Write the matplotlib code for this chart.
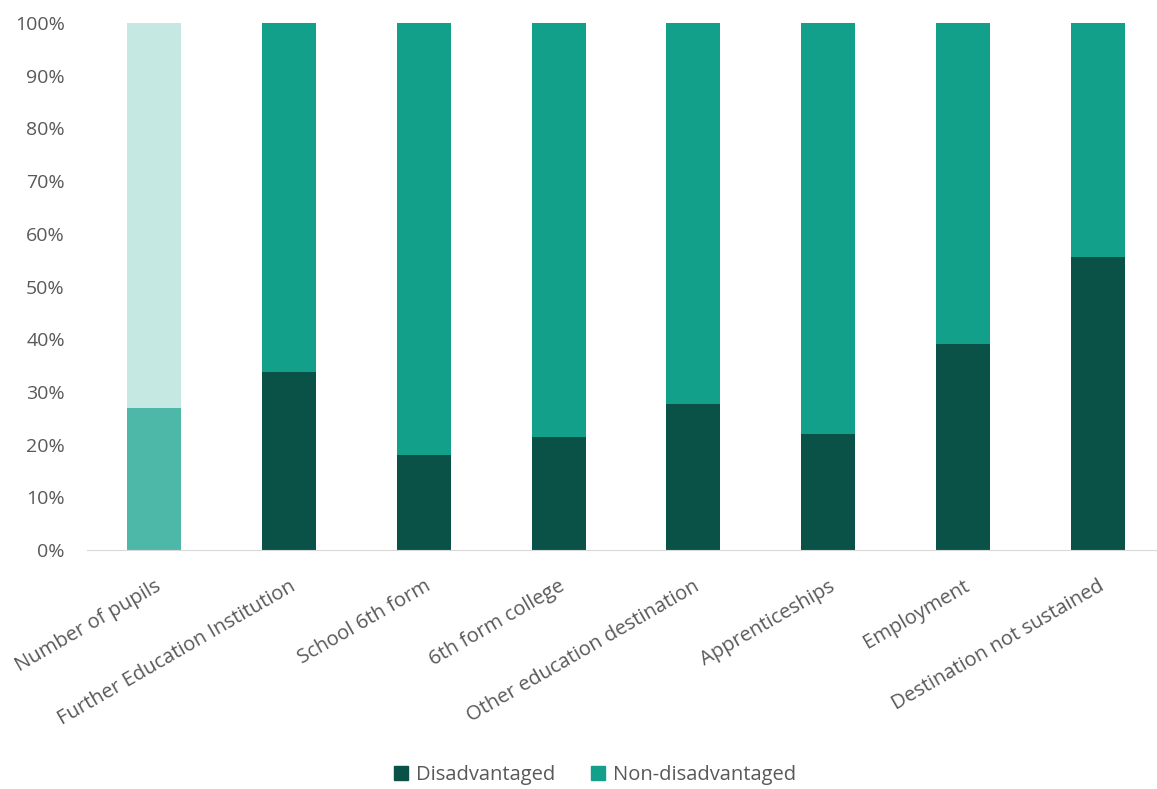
import matplotlib
matplotlib.use('Agg')
import matplotlib.pyplot as plt
from matplotlib.ticker import PercentFormatter
from matplotlib.patches import Patch

plt.rcParams['font.family'] = ['Open Sans', 'DejaVu Sans']

# Destination shares for disadvantaged vs non-disadvantaged pupils
categories = ['Number of pupils', 'Further Education Institution', 'School 6th form',
              '6th form college', 'Other education destination', 'Apprenticeships',
              'Employment', 'Destination not sustained']
disadvantaged = [27.0, 33.7, 18.1, 21.5, 27.7, 22.0, 39.1, 55.6]
non_disadvantaged = [100 - v for v in disadvantaged]

dark = '#0A5247'
mid = '#13A08B'
text_col = '#595959'

# first bar is shaded lighter than the rest
dis_colors = ['#4DB8A7'] + [dark] * (len(categories) - 1)
non_colors = ['#C5E8E2'] + [mid] * (len(categories) - 1)

fig = plt.figure(figsize=(11.57, 7.89), dpi=100)
ax = fig.add_axes([87 / 1157, 1 - 550 / 789, (1165 - 87) / 1157, (550 - 23) / 789])

x = range(len(categories))
ax.bar(x, disadvantaged, width=0.4, color=dis_colors, label='Disadvantaged')
ax.bar(x, non_disadvantaged, width=0.4, bottom=disadvantaged, color=non_colors,
       label='Non-disadvantaged')

ax.set_xlim(-0.5, len(categories) - 0.5)
ax.set_ylim(0, 100)
ax.set_yticks(range(0, 101, 10))
ax.yaxis.set_major_formatter(PercentFormatter(decimals=0))
ax.set_xticks(list(x))
ax.set_xticklabels(categories, rotation=30, ha='right', rotation_mode='anchor')
ax.tick_params(axis='y', length=0, labelsize=14, colors=text_col, pad=16)
ax.tick_params(axis='x', length=0, labelsize=14.5, colors=text_col, pad=19)

for side in ['top', 'right', 'left']:
    ax.spines[side].set_visible(False)
ax.spines['bottom'].set_color('#D9D9D9')

# legend uses the main series colours
handles = [Patch(color=dark), Patch(color=mid)]
leg = fig.legend(handles, ['Disadvantaged', 'Non-disadvantaged'], loc='center',
                 bbox_to_anchor=(595 / 1157, 1 - 775 / 789), ncol=2, frameon=False,
                 fontsize=14.5, handlelength=0.7, handleheight=0.7, columnspacing=1.8,
                 handletextpad=0.4)
for t in leg.get_texts():
    t.set_color(text_col)

fig.savefig('out.png', dpi=100)
